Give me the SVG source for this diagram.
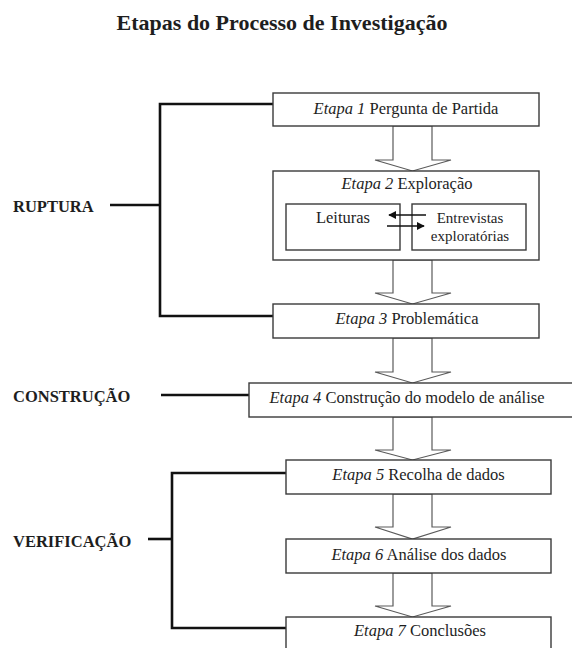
<svg xmlns="http://www.w3.org/2000/svg" width="572" height="648" viewBox="0 0 572 648">
<defs>
<style>
.bg{fill:#ffffff}
.box{fill:#ffffff;stroke:#3a3a3a;stroke-width:1.4}
.t{font-family:"Liberation Serif","Times New Roman",serif;font-size:16.5px;fill:#1e1e1e;text-anchor:middle}
.t .i{font-style:italic}
.t2{font-size:15px}
.lbl{font-family:"Liberation Serif","Times New Roman",serif;font-size:16.5px;font-weight:bold;fill:#1e1e1e}
.title{font-family:"Liberation Serif","Times New Roman",serif;font-size:22px;font-weight:bold;fill:#1e1e1e;text-anchor:middle}
.br{fill:none;stroke:#111;stroke-width:2.6}
.blk{fill:#ffffff;stroke:#5a5a5a;stroke-width:1.2;stroke-linejoin:miter}
.sm{stroke:#111;stroke-width:1.4;fill:none}
</style>
<marker id="ah" viewBox="0 0 10 10" refX="9" refY="5" markerWidth="8" markerHeight="8" markerUnits="userSpaceOnUse" orient="auto">
<path d="M0,0 L10,5 L0,10 z" fill="#111"/>
</marker>
</defs>
<rect class="bg" x="0" y="0" width="572" height="648"/>
<text class="title" x="282" y="30">Etapas do Processo de Investigação</text>

<g id="connectors">
<path class="br" d="M273,104 H160 V316 H273"/>
<path class="br" d="M110,205 H160"/>
<path class="br" d="M161,395 H249"/>
<path class="br" d="M286,473 H172 V628 H286"/>
<path class="br" d="M148,539 H172"/>
<polygon class="blk" points="393,126 432,126 432,160 451,160 412.5,171 375,160 393,160"/>
<polygon class="blk" points="393,260 432,260 432,293 451,293 412.5,304 375,293 393,293"/>
<polygon class="blk" points="393,338 432,338 432,372 451,372 412.5,383 375,372 393,372"/>
<polygon class="blk" points="393,417 432,417 432,450 451,450 412.5,460 375,450 393,450"/>
<polygon class="blk" points="393,494 432,494 432,527 451,527 412.5,539 375,527 393,527"/>
<polygon class="blk" points="393,573 432,573 432,606 451,606 412.5,617 375,606 393,606"/>
</g>

<g id="label-ruptura"><text class="lbl" x="13" y="212">RUPTURA</text></g>
<g id="label-construcao"><text class="lbl" x="13" y="402">CONSTRUÇÃO</text></g>
<g id="label-verificacao"><text class="lbl" x="13" y="547">VERIFICAÇÃO</text></g>

<g id="etapa1">
<rect class="box" x="273" y="93" width="266" height="33"/>
<text class="t" x="406" y="114"><tspan class="i">Etapa 1</tspan> Pergunta de Partida</text>
</g>

<g id="etapa2">
<rect class="box" x="273" y="171" width="266" height="89"/>
<text class="t" x="407" y="189"><tspan class="i">Etapa 2</tspan> Exploração</text>
<g id="leituras">
<rect class="box" x="286" y="204" width="114" height="46"/>
<text class="t" x="343" y="223">Leituras</text>
</g>
<g id="entrevistas">
<rect class="box" x="412" y="204" width="114" height="46"/>
<text class="t t2" x="470" y="223">Entrevistas</text>
<text class="t t2" x="470" y="241">exploratórias</text>
</g>
</g>

<g id="connectors-inner">
<line class="sm" x1="426" y1="215" x2="389" y2="215" marker-end="url(#ah)"/>
<line class="sm" x1="387" y1="226" x2="424" y2="226" marker-end="url(#ah)"/>
</g>

<g id="etapa3">
<rect class="box" x="273" y="304" width="266" height="34"/>
<text class="t" x="407" y="324"><tspan class="i">Etapa 3</tspan> Problemática</text>
</g>

<g id="etapa4">
<rect class="box" x="249" y="383" width="326" height="34"/>
<text class="t" x="407" y="403"><tspan class="i">Etapa 4</tspan> Construção do modelo de análise</text>
</g>

<g id="etapa5">
<rect class="box" x="286" y="460" width="265" height="34"/>
<text class="t" x="418.5" y="480"><tspan class="i">Etapa 5</tspan> Recolha de dados</text>
</g>

<g id="etapa6">
<rect class="box" x="286" y="539" width="265" height="34"/>
<text class="t" x="419" y="560"><tspan class="i">Etapa 6</tspan> Análise dos dados</text>
</g>

<g id="etapa7">
<rect class="box" x="286" y="617" width="265" height="36"/>
<text class="t" x="420" y="636"><tspan class="i">Etapa 7</tspan> Conclusões</text>
</g>
</svg>
